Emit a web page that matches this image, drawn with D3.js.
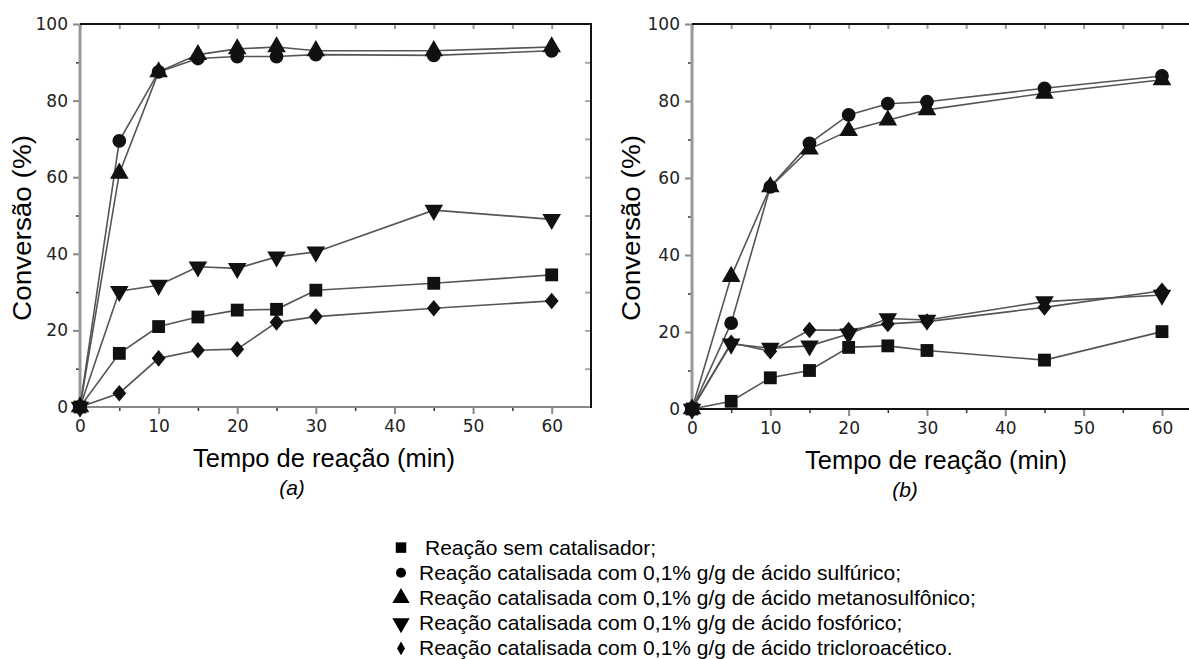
<!DOCTYPE html>
<html><head><meta charset="utf-8">
<script src="https://cdn.jsdelivr.net/npm/d3@7/dist/d3.min.js"></script>
<style>body{margin:0;background:#fff;} svg{display:block;}</style>
</head><body>
<svg id="c" width="1189" height="659"></svg>
<script>
const times = [0, 5, 10, 15, 20, 25, 30, 45, 60];
// Panel (a)
const aSemCat   = [0, 14, 21, 23.5, 25.3, 25.5, 30.5, 32.3, 34.5];
const aSulf     = [0, 69.5, 87.5, 91, 91.5, 91.5, 92, 91.8, 93];
const aMetano   = [0, 61, 87.5, 92, 93.5, 94, 93, 93, 94];
const aFosf     = [0, 30.2, 31.8, 36.6, 36.2, 39.2, 40.5, 51.4, 49];
const aTricloro = [0, 3.6, 12.7, 14.8, 15.1, 22.1, 23.6, 25.8, 27.7];
// Panel (b)
const bSemCat   = [0, 2, 8.1, 10, 16, 16.4, 15.2, 12.7, 20.1];
const bSulf     = [0, 22.3, 57.7, 69, 76.4, 79.3, 79.8, 83.3, 86.5];
const bMetano   = [0, 34.4, 57.7, 67.5, 72.3, 75, 77.7, 82, 85.5];
const bFosf     = [0, 16.9, 15.8, 16.4, 19.5, 23.5, 23.1, 27.9, 29.6];
const bTricloro = [0, 17.2, 15, 20.5, 20.5, 22.1, 22.7, 26.4, 30.7];

const yTicks = [0, 20, 40, 60, 80, 100];
const yMinor = [10, 30, 50, 70, 90];
const xTicks = [0, 10, 20, 30, 40, 50, 60];
const xMinor = [5, 15, 25, 35, 45, 55];
const xAll = [0, 5, 10, 15, 20, 25, 30, 35, 40, 45, 50, 55, 60];
const rightTicks = [10, 20, 30, 40, 50, 60, 70, 80, 90];

const xTitle = "Tempo de reação (min)";
const yTitle = "Conversão (%)";
const legendLabels = [
  "Reação sem catalisador;",
  "Reação catalisada com 0,1% g/g de ácido sulfúrico;",
  "Reação catalisada com 0,1% g/g de ácido metanosulfônico;",
  "Reação catalisada com 0,1% g/g de ácido fosfórico;",
  "Reação catalisada com 0,1% g/g de ácido tricloroacético."
];

const svg = d3.select("#c");
const symbols = [
  {type: d3.symbolSquare, size: 165, tf: ""},
  {type: d3.symbolCircle, size: 150, tf: ""},
  {type: d3.symbolTriangle, size: 150, tf: ""},
  {type: d3.symbolTriangle, size: 150, tf: "rotate(180)"},
  {type: d3.symbolSquare, size: 95, tf: "scale(1,1.2) rotate(45)"}
];

function panel(cfg) {
  const x = d3.scaleLinear().domain(cfg.xDomain).range(cfg.xRange);
  const y = d3.scaleLinear().domain([0, 100]).range(cfg.yRange);
  const g = svg.append("g");
  const x0 = cfg.xRange[0], x1 = cfg.xRange[1], y0 = cfg.yRange[0], y1 = cfg.yRange[1];

  // Left axis
  const la = g.append("g").attr("transform", `translate(${x0},0)`)
    .call(d3.axisLeft(y).tickValues(yTicks).tickSize(7).tickPadding(5).tickFormat(d3.format("d")));
  la.select(".domain").remove();
  la.selectAll("line").attr("stroke", "#888").attr("stroke-width", 2);
  la.selectAll("text").attr("font-family", "DejaVu Sans").attr("font-size", 17).attr("fill", "#222");
  const lm = g.append("g").attr("transform", `translate(${x0},0)`)
    .call(d3.axisLeft(y).tickValues(yMinor).tickSize(4).tickFormat(""));
  lm.select(".domain").remove();
  lm.selectAll("line").attr("stroke", "#333").attr("stroke-width", 1.5);

  // Bottom axis
  const ba = g.append("g").attr("transform", `translate(0,${y0})`)
    .call(d3.axisBottom(x).tickValues(xTicks).tickSize(7).tickPadding(6).tickFormat(d3.format("d")));
  ba.select(".domain").remove();
  ba.selectAll("line").attr("stroke", "#888").attr("stroke-width", 2);
  ba.selectAll("text").attr("font-family", "DejaVu Sans").attr("font-size", 17).attr("fill", "#222");
  const bm = g.append("g").attr("transform", `translate(0,${y0})`)
    .call(d3.axisBottom(x).tickValues(xMinor).tickSize(4).tickFormat(""));
  bm.select(".domain").remove();
  bm.selectAll("line").attr("stroke", "#333").attr("stroke-width", 1.5);

  // Top ticks (inward)
  const ta = g.append("g").attr("transform", `translate(0,${y1})`)
    .call(d3.axisBottom(x).tickValues(xAll).tickSize(5).tickFormat(""));
  ta.select(".domain").remove();
  ta.selectAll("line").attr("stroke", "#999").attr("stroke-width", 2);

  // Frame lines
  g.append("line").attr("x1", x0).attr("x2", x0).attr("y1", y1).attr("y2", y0)
    .attr("stroke", "#999").attr("stroke-width", 3);
  g.append("line").attr("x1", x0).attr("x2", x1).attr("y1", y1).attr("y2", y1)
    .attr("stroke", "#111").attr("stroke-width", 2);
  g.append("line").attr("x1", x0).attr("x2", x1).attr("y1", y0).attr("y2", y0)
    .attr("stroke", cfg.bottomColor).attr("stroke-width", 2);
  if (cfg.rightBorder) {
    const ra = g.append("g").attr("transform", `translate(${x1},0)`)
      .call(d3.axisRight(y).tickValues(rightTicks).tickSize(-6).tickFormat(""));
    ra.select(".domain").remove();
    ra.selectAll("line").attr("stroke", "#aaa").attr("stroke-width", 2);
    g.append("line").attr("x1", x1).attr("x2", x1).attr("y1", y1 - 1).attr("y2", y0 + 1)
      .attr("stroke", "#111").attr("stroke-width", 2);
  }

  // Series
  const line = d3.line().x((d, i) => x(times[i])).y(d => y(d));
  cfg.series.forEach((s) => {
    g.append("path").datum(s).attr("d", line).attr("fill", "none")
      .attr("stroke", "#555").attr("stroke-width", 1.6);
  });
  cfg.series.forEach((s, k) => {
    const sym = symbols[k];
    g.selectAll(null).data(s).enter().append("path")
      .attr("d", d3.symbol().type(sym.type).size(sym.size))
      .attr("transform", (d, i) => `translate(${x(times[i])},${y(d)}) ${sym.tf}`)
      .attr("fill", "#111");
  });

  // Titles
  g.append("text").attr("x", cfg.xTitleX).attr("y", cfg.xTitleY).attr("text-anchor", "middle")
    .attr("font-family", "Liberation Sans, Arial").attr("font-size", 25).attr("fill", "#000")
    .attr("textLength", 262).attr("lengthAdjust", "spacingAndGlyphs").text(xTitle);
  g.append("text").attr("x", cfg.labX).attr("y", cfg.labY).attr("text-anchor", "middle")
    .attr("font-family", "Liberation Sans, Arial").attr("font-style", "italic").attr("font-size", 21)
    .attr("fill", "#000").text(cfg.label);
  g.append("text").attr("transform", `translate(${cfg.yTitleX},${cfg.yTitleY}) rotate(-90)`)
    .attr("text-anchor", "middle").attr("font-family", "Liberation Sans, Arial").attr("font-size", 25)
    .attr("fill", "#000").attr("textLength", 186).attr("lengthAdjust", "spacingAndGlyphs").text(yTitle);
}

panel({
  xDomain: [0, 65], xRange: [80, 591], yRange: [407, 24], bottomColor: "#888", rightBorder: true,
  series: [aSemCat, aSulf, aMetano, aFosf, aTricloro],
  xTitleX: 324, xTitleY: 467, labX: 292, labY: 495, label: "(a)", yTitleX: 31, yTitleY: 228
});
panel({
  xDomain: [0, 63.45], xRange: [692, 1189], yRange: [409, 24], bottomColor: "#111", rightBorder: false,
  series: [bSemCat, bSulf, bMetano, bFosf, bTricloro],
  xTitleX: 936, xTitleY: 469, labX: 905, labY: 497, label: "(b)", yTitleX: 640, yTitleY: 228
});

// Legend
const legY = d3.scaleBand().domain(d3.range(legendLabels.length)).range([535, 661]).paddingInner(0);
const legSyms = [
  {type: d3.symbolSquare, size: 110, tf: ""},
  {type: d3.symbolCircle, size: 80, tf: ""},
  {type: d3.symbolTriangle, size: 130, tf: ""},
  {type: d3.symbolTriangle, size: 130, tf: "rotate(180)"},
  {type: d3.symbolDiamond, size: 55, tf: ""}
];
const lg = svg.append("g");
legendLabels.forEach((t, i) => {
  const cy = legY(i) + legY.bandwidth() / 2;
  lg.append("path").attr("d", d3.symbol().type(legSyms[i].type).size(legSyms[i].size))
    .attr("transform", `translate(401,${cy}) ${legSyms[i].tf}`).attr("fill", "#000");
  lg.append("text").attr("x", i === 0 ? 425 : 419).attr("y", cy + 7)
    .attr("font-family", "Liberation Sans, Arial").attr("font-size", 21).attr("fill", "#000").text(t);
});
</script>
</body></html>
